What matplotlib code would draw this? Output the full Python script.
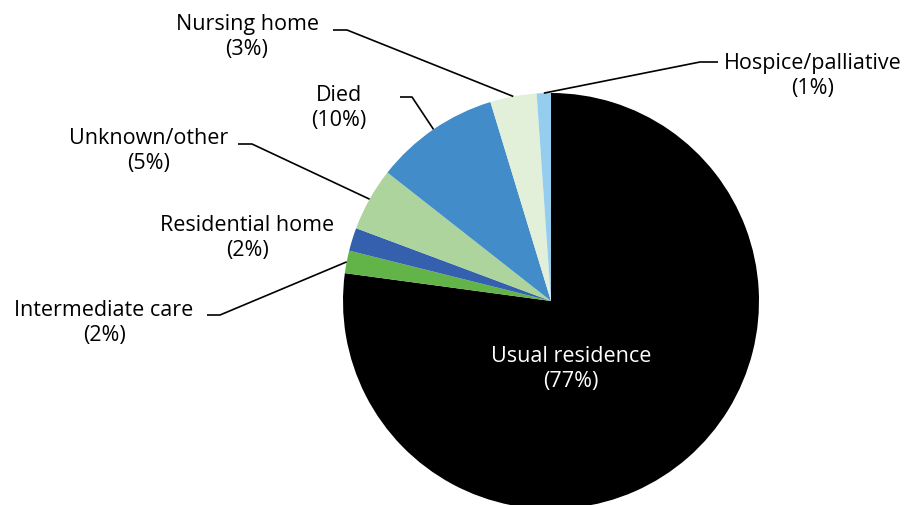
import matplotlib.pyplot as plt
import numpy as np

# slices, clockwise from 12 o'clock
names = ["Usual residence", "Intermediate care", "Residential home",
         "Unknown/other", "Died", "Nursing home", "Hospice/palliative"]
shares = [77.1, 1.75, 1.8, 4.9, 9.7, 3.6, 1.1]
pct_labels = ["77%", "2%", "2%", "5%", "10%", "3%", "1%"]
colors = ["#000000", "#62b448", "#3460ae", "#acd49c",
          "#438cca", "#e2f0da", "#94cdee"]

W, H = 908, 506
CX, CY, R = 551, H - 302, 208

# label layout in pixel coords (x, y from top), leader: elbow x,y and end x
label_pos = {
    "Usual residence": (571, 369),
    "Intermediate care": (104, 323),
    "Residential home": (247, 238),
    "Unknown/other": (149, 151),
    "Died": (339, 108),
    "Nursing home": (247, 37),
    "Hospice/palliative": (813, 76),
}
leaders = {
    "Intermediate care": (220, 316, 207),
    "Unknown/other": (252, 145, 238),
    "Died": (412, 98, 400),
    "Nursing home": (347, 31, 333),
    "Hospice/palliative": (700, 63, 718),
}

plt.rcParams["font.family"] = ["Open Sans", "DejaVu Sans"]

fig = plt.figure(figsize=(W / 100, H / 100), dpi=100)
ax = fig.add_axes([0, 0, 1, 1])

wedges, _ = ax.pie(shares, colors=colors, startangle=90, counterclock=False,
                   center=(CX, CY), radius=R, frame=False,
                   wedgeprops=dict(linewidth=0))
ax.set_xlim(0, W)
ax.set_ylim(0, H)
ax.set_aspect("equal")
ax.axis("off")

for name, pct, w in zip(names, pct_labels, wedges):
    lx, ly = label_pos[name]
    col = "white" if name == "Usual residence" else "black"
    ax.text(lx, H - ly, f"{name}\n({pct})", ha="center", va="center",
            fontsize=15.5, color=col, linespacing=1.3)
    if name in leaders:
        ex, ey, hx = leaders[name]
        mid = np.deg2rad((w.theta1 + w.theta2) / 2)
        px = CX + R * np.cos(mid)
        py = CY + R * np.sin(mid)
        ax.plot([px, ex, hx], [py, H - ey, H - ey], color="black", lw=1.2,
                solid_capstyle="butt")

fig.savefig("out.png", dpi=100)
